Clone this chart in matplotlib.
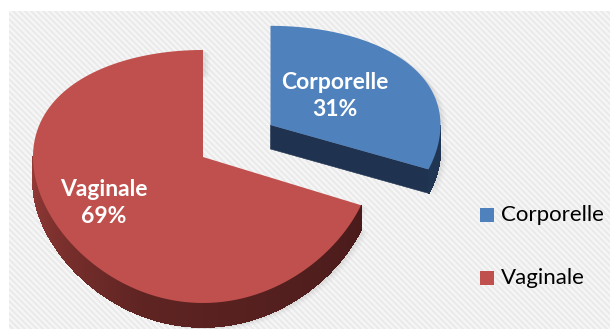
import numpy as np
import matplotlib
matplotlib.use("Agg")
import matplotlib.pyplot as plt
from matplotlib.patches import Polygon, Rectangle

labels = ["Corporelle", "Vaginale"]
shares = [31, 69]
top_colors = ["#4F81BD", "#C0504D"]
explode = [0.48, 0.0]

# pie geometry in pixels (y grows downward)
cx, cy = 203, 157
A, B = 170, 123.5
k = 0.154          # perspective: near side looks bigger
D = 24             # thickness of the pie

fig = plt.figure(figsize=(6.10, 3.29), dpi=100)
ax = fig.add_axes([0, 0, 1, 1])
ax.set_xlim(0, 610)
ax.set_ylim(329, 0)
ax.axis("off")

# striped grey background panel
bg = Rectangle((9, 11), 601, 318, facecolor="#F7F7F7", edgecolor="none", zorder=0)
ax.add_patch(bg)
for s in np.arange(-400, 700, 6):
    ln, = ax.plot([s, s + 400], [0, 400], color="#EAEAEA", lw=1.6, zorder=0.5)
    ln.set_clip_path(bg)


def proj(u, v, z=0.0):
    x = cx + A * u
    y = cy + B * v / (1 - k * v) + z
    return x, y


def mix(c1, c2, t):
    a = np.array(matplotlib.colors.to_rgb(c1))
    b = np.array(matplotlib.colors.to_rgb(c2))
    return tuple(a + (b - a) * t)


def wall_color(i, th):
    if i == 0:
        return "#1F3552"
    # lighter on the left, darker toward the front/right
    if th > 200:
        return mix("#5E2422", "#943A37", (th - 200) / 70)
    return mix("#4A1B1B", "#5E2422", (th - 111.6) / 88.4)


starts = np.concatenate([[0], np.cumsum(shares)[:-1]]) / sum(shares) * 360
ends = np.cumsum(shares) / sum(shares) * 360

# draw the near slice (Vaginale) first, then the exploded one
for i in [1, 0]:
    t0, t1 = starts[i], ends[i]
    mid = np.radians((t0 + t1) / 2)
    ou, ov = explode[i] * np.sin(mid), -explode[i] * np.cos(mid)
    z = 2 + i
    vx, vy = proj(ou, ov)

    ths = np.radians(np.linspace(t0, t1, 200))
    px, py = proj(ou + np.sin(ths), ov - np.cos(ths))

    # soft shadow of the slice outline, thrown to the lower right
    sil = np.vstack([[vx, vy], np.c_[px, py], np.c_[px, py + D][::-1], [[vx, vy + D]]])
    for off, al in [(7, 0.035), (5, 0.05), (3, 0.07)]:
        ax.add_patch(Polygon(sil + [off, off * 0.5], closed=True, facecolor="#707070",
                             alpha=al, edgecolor="none", zorder=1))

    # outer wall, only the part facing the viewer
    w0, w1 = max(t0, 90), min(t1, 270)
    if w1 > w0:
        tw = np.linspace(w0, w1, 160)
        wx, wy = proj(ou + np.sin(np.radians(tw)), ov - np.cos(np.radians(tw)))
        base = np.vstack([np.c_[wx, wy], np.c_[wx, wy + D][::-1]])
        ax.add_patch(Polygon(base, closed=True, facecolor=wall_color(i, (w0 + w1) / 2),
                             edgecolor="none", zorder=z))
        for j in range(len(tw) - 1):
            quad = [(wx[j], wy[j]), (wx[j + 1], wy[j + 1]),
                    (wx[j + 1], wy[j + 1] + D), (wx[j], wy[j] + D)]
            c = wall_color(i, (tw[j] + tw[j + 1]) / 2)
            ax.add_patch(Polygon(quad, closed=True, facecolor=c, edgecolor=c, lw=0.6,
                                 antialiased=False, zorder=z + 0.1))

    # radial face at the end edge, visible when it turns toward the viewer
    re = np.radians(t1)
    if np.sin(re) > 0.05 and t1 < 360:
        ex, ey = proj(ou + np.sin(re), ov - np.cos(re))
        ax.add_patch(Polygon([(vx, vy), (ex, ey), (ex, ey + D), (vx, vy + D)], closed=True,
                             facecolor="#1F3350", edgecolor="#1F3350", lw=0.4, zorder=z))

    # top face
    pts = np.vstack([[vx, vy], np.c_[px, py]])
    ax.add_patch(Polygon(pts, closed=True, facecolor=top_colors[i], edgecolor="none",
                         zorder=z + 0.5))

# data labels on the slices
label_pos = {0: (335, 96), 1: (104, 203)}
for i, name in enumerate(labels):
    x, y = label_pos[i]
    ax.text(x, y, f"{name}\n{shares[i]}%", color="white", fontsize=16.5,
            fontweight="bold", family=["Lato", "DejaVu Sans"], ha="center", va="center",
            linespacing=1.35, zorder=10)

# legend
leg_y = [215, 278]
for i, name in enumerate(labels):
    ax.add_patch(Rectangle((480, leg_y[i] - 7), 14, 14, facecolor=top_colors[i],
                           edgecolor="none", zorder=10))
    ax.text(501, leg_y[i], name, color="black", fontsize=16, family=["Lato", "DejaVu Sans"],
            ha="left", va="center", zorder=10)

fig.savefig("out.png", dpi=100)
